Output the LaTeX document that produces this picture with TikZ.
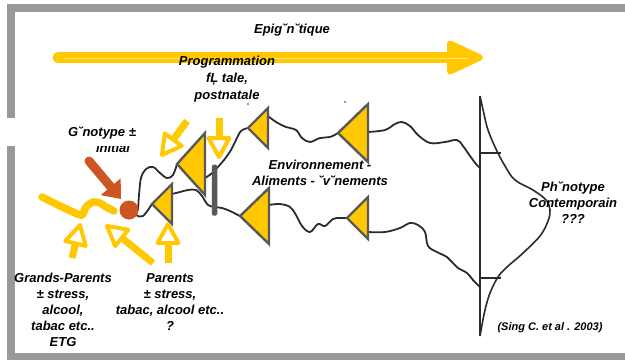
\documentclass[tikz,border=0pt]{standalone}
\usepackage{fontspec}
\setmainfont{Liberation Sans}
\usetikzlibrary{calc}

\definecolor{sun}{HTML}{FFC800}
\definecolor{sunlight}{HTML}{FFE27A}
\definecolor{rust}{HTML}{CC5522}
\definecolor{framegrey}{HTML}{999999}
\definecolor{edgegrey}{HTML}{595959}
\definecolor{ink}{HTML}{2B2B2B}

\tikzset{
  lbl/.style={font=\fontsize{13}{16}\selectfont\bfseries\itshape, align=center, inner sep=0pt, text=black},
  wave/.style={draw=ink, line width=1.8pt, line join=round, line cap=round},
  gate/.style={draw=edgegrey, fill=sun, line width=2.4pt, line join=miter},
  shaft/.style={draw=sun, line width=7pt},
  openhead/.style={draw=sun, fill=white, line width=4pt, line join=round},
  curve/.style={draw=ink, line width=1.6pt},
}

% left-pointing gate: name, tip x, tip y, right-edge x, half height
\newcommand{\gatetri}[5]{%
  \coordinate (#1) at (#2,#3);
  \coordinate (#1-t) at (#4,#3-#5);
  \coordinate (#1-b) at (#4,#3+#5);
  \draw[gate] (#1) -- (#1-t) -- (#1-b) -- cycle;
}

% yellow arrow with hollow head, from #1 to tip #2
\newcommand{\openarrow}[2]{%
  \coordinate (hb) at ($(#2)!19pt!(#1)$);
  \draw[shaft] (#1) -- (hb);
  \draw[openhead] (#2) -- ($(hb)!10.5pt!90:(#2)$) -- ($(hb)!10.5pt!-90:(#2)$) -- cycle;
}

\begin{document}
\begin{tikzpicture}[x=1pt, y=-1pt]
\useasboundingbox (0,0) rectangle (625,360);
\clip (0,0) rectangle (625,360);

% frame
\draw[framegrey, line width=7.5pt] (10.75,8) rectangle (700,356.5);

% long epigenetic arrow
\coordinate (epi-s) at (58,57.5);
\coordinate (epi-e) at (452,57.5);
\draw[sun, line width=11pt, line cap=round] (epi-s) -- (epi-e);
\filldraw[sun, line width=6pt, line join=round] (450,43.5) -- (480,57.5) -- (450,71.5) -- cycle;
\draw[sunlight, line width=0.9pt] (64,58) -- (468,58);

% genotype seed
\coordinate (zc) at (129,210);

% gate positions
\coordinate (T1o) at (172,194);
\coordinate (T2o) at (205,178);
\coordinate (T4o) at (268,116);
\coordinate (T5o) at (269,205);
\coordinate (T6o) at (368,132);
\coordinate (T7o) at (368,232);
\coordinate (T1) at (152,204);
\coordinate (T2) at (177,164);
\coordinate (T4) at (248,128);
\coordinate (T5) at (240,216);
\coordinate (T6) at (338,133);
\coordinate (T7) at (347,218);

% phenotype axis
\coordinate (ax-top) at (480,96);
\coordinate (ax-bot) at (480,336);
\coordinate (ax-up) at (480,168);
\coordinate (ax-lo) at (480,287);
\coordinate (q1) at (480,153);
\coordinate (q3) at (480,278);

% trajectories
\draw[wave] plot[smooth, tension=0.6] coordinates {(zc) (137,212) (139,195) (141,178) (146,169) (153,167) (160,173) (167,178) (173,175) (T2)};
\draw[wave] plot[smooth, tension=0.6] coordinates {(zc) (136,215) (143,216) (T1)};
\draw[wave] plot[smooth, tension=0.6] coordinates {(T2o) (211,174) (217,168) (224,160) (231,150) (236,140) (241,131) (T4)};
\draw[wave] plot[smooth, tension=0.6] coordinates {(T1o) (180,192) (188,190) (196,190) (202,196) (208,205) (215,207) (222,208) (230,211) (236,214) (T5)};
\draw[wave] plot[smooth, tension=0.6] coordinates {(T4o) (276,122) (286,127) (296,130) (302,138) (310,142) (320,138) (330,137) (T6)};
\draw[wave] plot[smooth, tension=0.6] coordinates {(T5o) (280,204) (290,207) (296,215) (302,226) (310,232) (318,224) (325,226) (333,219) (340,218) (T7)};
\draw[wave] plot[smooth, tension=0.6] coordinates {(T6o) (385,130) (395,124) (402,122) (410,126) (418,135) (430,143) (445,142) (457,140) (463,146) (470,156) (476,164) (ax-up)};
\draw[wave] plot[smooth, tension=0.6] coordinates {(T7o) (385,232) (400,228) (410,223) (418,225) (425,232) (428,246) (437,252) (447,257) (452,262) (458,268) (467,273) (473,280) (ax-lo)};

% phenotype distribution
\draw[curve] (ax-top) -- (ax-bot);
\draw[curve] plot[smooth, tension=0.6] coordinates {(ax-top) (484,114) (488,130) (496,149) (505,166) (515,180) (533,190) (546,200) (550,210) (548,221) (540,236) (522,254) (507,267) (498,277) (490,293) (485,310) (482,325) (ax-bot)};
\draw[curve] (q1) -- ++(21,0);
\draw[curve] (q3) -- ++(21,0);

% gates
\gatetri{G1}{152}{204}{172}{20}
\gatetri{G2}{177}{164}{205}{31}
\gatetri{G4}{248}{128}{268}{20}
\gatetri{G5}{240}{216}{269}{28}
\gatetri{G6}{338}{133}{368}{29}
\gatetri{G7}{347}{218}{368}{21}

% barrier
\node[fill=edgegrey, minimum width=5.5pt, minimum height=51pt, inner sep=0pt, rounded corners=1.5pt] (bar) at (214.5,190) {};

% small marks
\fill[ink] (248,104) circle (0.9pt);
\fill[ink] (345,102) circle (0.9pt);

% genotype
\node[circle, fill=rust, minimum size=19pt, inner sep=0pt] (zyg) at (zc) {};
\coordinate (oa-s) at (89,161);
\coordinate (oa-t) at (121,199);
\coordinate (ob) at ($(oa-t)!16pt!(oa-s)$);
\draw[rust, line width=9pt, line cap=round] (oa-s) -- (ob);
\fill[rust] (oa-t) -- ($(ob)!13pt!90:(oa-t)$) -- ($(ob)!13pt!-90:(oa-t)$) -- cycle;

% ancestral trail
\draw[sun, line width=7.5pt, line cap=round, line join=round] plot[smooth, tension=0.5] coordinates {(42,197) (58,205) (73,212) (82,215) (86,207) (93,202) (100,203) (106,207) (114,211)};

% influences
\coordinate (a1s) at (72,258);  \coordinate (a1t) at (80,225);
\coordinate (a2s) at (153,263); \coordinate (a2t) at (107,226);
\coordinate (a3s) at (168,263); \coordinate (a3t) at (168,224);
\coordinate (a4s) at (187,121); \coordinate (a4t) at (162,155);
\coordinate (a5s) at (219,118); \coordinate (a5t) at (219,157);
\openarrow{a1s}{a1t}
\openarrow{a2s}{a2t}
\openarrow{a3s}{a3t}
\openarrow{a4s}{a4t}
\openarrow{a5s}{a5t}

% labels
\node[lbl] (epi) at (292,30) {Epig˘n˘tique};
\node[lbl, font=\fontsize{13}{17}\selectfont\bfseries\itshape] (prog) at (227,79) {Programmation\\fĻ tale,\\postnatale};
\node[lbl] (gp) at (63,310) {Grands-Parents\\± stress,\\alcool,\\tabac etc..\\ETG};
\node[lbl] (par) at (170,302) {Parents\\± stress,\\tabac, alcool etc..\\?};
\node[lbl] (env) at (320,173) {Environnement -\\Aliments - ˘v˘nements};
\node[lbl] (pheno) at (573,203) {Ph˘notype\\Contemporain\\???};
\node[lbl, font=\fontsize{11}{13}\selectfont\bfseries\itshape] (ref) at (550,328) {(Sing C. et al . 2003)};
\node[lbl, anchor=base] (init) at (113,152) {initial};
\fill[white] (0,118) rectangle (135,146);
\node[lbl] (geno) at (102,133) {G˘notype ±};
\end{tikzpicture}
\end{document}
